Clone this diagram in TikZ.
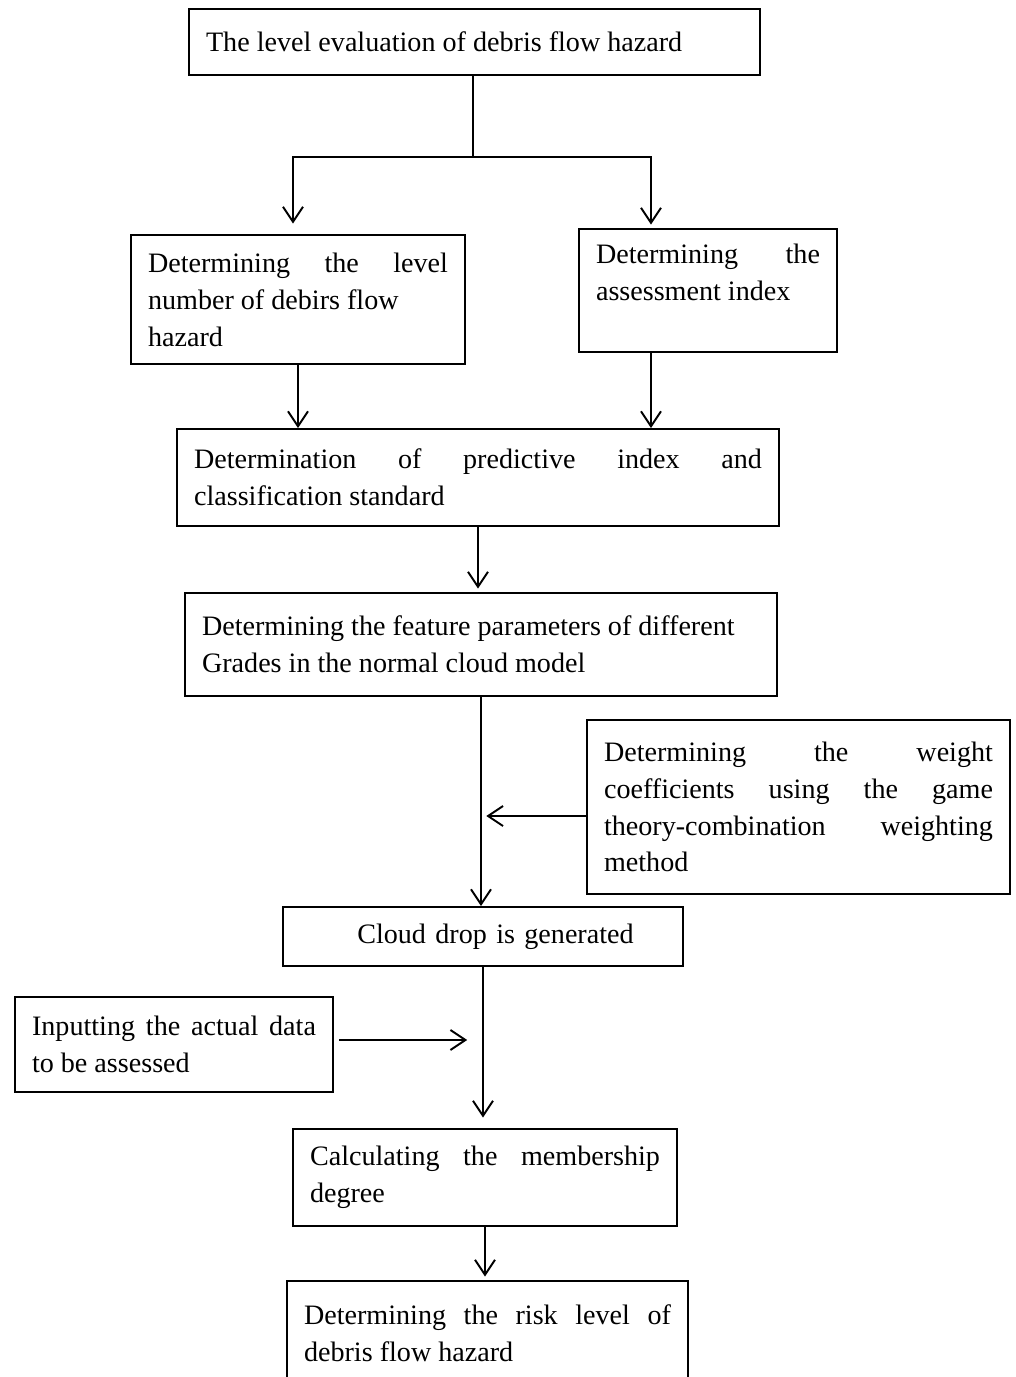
\documentclass[tikz,border=0pt]{standalone}
\usepackage{fontspec}
\setmainfont{Liberation Serif}
\usetikzlibrary{arrows.meta}
\tikzset{
	box/.style={draw, line width=1.1pt, inner xsep=0.34cm, inner ysep=0pt, align=justify, font=\fontsize{16}{21}\selectfont},
	arr/.style={line width=1.1pt, -{Straight Barb[length=3mm,width=4mm]}}
}

\begin{document}
\begin{tikzpicture}[x=0.02cm, y=-0.02cm]
			%%%%% START %%%%%
			\useasboundingbox (0, 0) rectangle (1016, 1377);
			\clip (0, 0) rectangle (1016, 1377);
			
			\node[box, text width=10.74cm, minimum height=1.32cm] (top) at (474.5, 42) {The level evaluation of debris flow hazard};
			\node[box, text width=6.0cm, minimum height=2.58cm] (levelnum) at (298, 299.5) {Determining the level\linebreak number of debirs flow\\hazard};
			\node[box, text width=4.48cm, minimum height=2.46cm] (index) at (708, 290.5) {Determining the\linebreak assessment index\par\mbox{}};
			\node[box, text width=11.36cm, minimum height=1.94cm] (standard) at (478, 477.5) {Determination of predictive index and\linebreak classification standard};
			\node[box, text width=11.16cm, minimum height=2.06cm] (params) at (481, 644.5) {Determining the feature parameters of different\\Grades in the normal cloud model};
			\node[box, text width=7.78cm, minimum height=3.48cm] (weight) at (798.5, 807) {Determining the weight\linebreak coefficients using the game\linebreak theory-combination weighting\linebreak method};
			\node[box, text width=7.32cm, minimum height=1.18cm, align=center] (drop) at (483, 936.5) {\hspace*{0.5cm}Cloud drop is generated};
			\node[box, text width=5.68cm, minimum height=1.9cm] (input) at (174, 1044.5) {Inputting the actual data\linebreak to be assessed};
			\node[box, text width=7.0cm, minimum height=1.94cm] (member) at (485, 1177.5) {Calculating the membership\linebreak degree};
			\node[box, text width=7.34cm, minimum height=2.08cm] (risk) at (487.5, 1333) {Determining the risk level of\linebreak debris flow hazard};
			
			% split below the top box
			\coordinate (split) at (473, 157);
			\draw[line width=1.1pt] (top.south -| split) -- (split);
			\draw[arr, shorten >=6pt] (split) -| ([shift={(-5,0)}]levelnum.north);
			\draw[arr, shorten >=2pt] (split) -| ([shift={(-57,0)}]index.north);
			
			\draw[arr] (levelnum.south) -- (levelnum.south |- standard.north);
			\draw[arr] ([shift={(-57,0)}]index.south) -- ([shift={(-57,0)}]index.south |- standard.north);
			\draw[arr, shorten >=2pt] (standard.south) -- (standard.south |- params.north);
			\draw[arr] (params.south) -- (params.south |- drop.north);
			\draw[arr, shorten >=3pt] ([shift={(0,9)}]weight.west) -- ([shift={(0,9)}]weight.west -| params.south);
			\draw[arr, shorten >=6pt] (drop.south) -- (drop.south |- member.north);
			\draw[arr, shorten <=3pt, shorten >=9pt] ([shift={(0,-4.5)}]input.east) -- ([shift={(0,-4.5)}]input.east -| drop.south);
			\draw[arr, shorten >=2pt] (member.south) -- (member.south |- risk.north);
			%%%%% END %%%%%
\end{tikzpicture}
\end{document}
